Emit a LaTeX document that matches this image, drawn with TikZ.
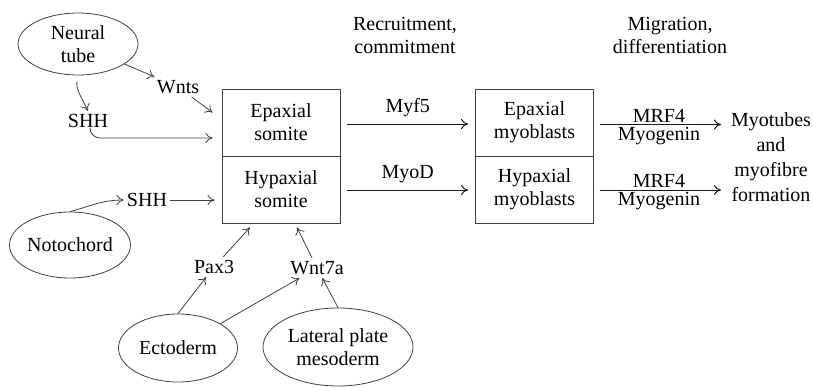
\documentclass[tikz,border=0pt]{standalone}
\usepackage{tikz}
\usetikzlibrary{arrows.meta,shapes.geometric}
\usepackage{fontspec}
\setmainfont{Liberation Serif}

\begin{document}
\begin{tikzpicture}[x=0.5pt, y=-0.5pt,
  font=\rmfamily\fontsize{10}{11.5}\selectfont,
  arr/.style={-{To[length=3.5pt,width=5pt]}, draw=black!75, line width=0.4pt},
  mainarr/.style={arr, draw=black!90, line width=0.5pt, shorten <=3.5pt, shorten >=3.5pt},
  tissue/.style={ellipse, draw=black!75, line width=0.4pt, align=center, inner sep=0pt},
  cellbox/.style={rectangle, draw=black!75, line width=0.45pt, align=center,
    minimum width=59pt, minimum height=33.5pt, inner sep=0pt},
  sig/.style={inner sep=1.5pt}]
  \useasboundingbox (0,0) rectangle (813,386);

  % Tissues
  \node[tissue, minimum width=60pt, minimum height=31pt] (neural) at (78,44) {Neural\\tube};
  \node[tissue, minimum width=59.5pt, minimum height=33pt] (noto) at (70,245) {Notochord};
  \node[tissue, minimum width=59.5pt, minimum height=34pt] (ecto) at (178,348) {Ectoderm};
  \node[tissue, minimum width=75pt, minimum height=39pt] (lpm) at (338,347) {Lateral plate\\mesoderm};

  % Signals
  \node[sig] (wnts) at (178,87) {Wnts};
  \node[sig] (shhA) at (88,121) {SHH};
  \node[sig] (shhB) at (147,200) {SHH};
  \node[sig] (pax) at (214,267) {Pax3};
  \node[sig] (wnta) at (317,268) {Wnt7a};

  % Somites and myoblasts
  \node[cellbox] (epis) at (281,122.5) {Epaxial\\somite};
  \node[cellbox] (hyps) at (281,189.5) {Hypaxial\\somite};
  \node[cellbox] (epim) at (534.5,122.5) {Epaxial\\myoblasts};
  \node[cellbox] (hypm) at (534.5,189.5) {Hypaxial\\myoblasts};
  \node[align=center, font=\rmfamily\fontsize{10}{12.5}\selectfont] (fate) at (771,157)
    {Myotubes\\and\\myofibre\\formation};

  % Stage headings
  \node[align=center] (recruit) at (405,35) {Recruitment,\\commitment};
  \node[align=center] (migrate) at (670,35) {Migration,\\differentiation};

  % Inputs to the somite
  \draw[arr] (neural) -- (wnts);
  \draw[arr] (wnts) -- ([shift={(-9,-10)}]epis.west);
  \draw[arr, shorten <=3pt] (neural.south) to[out=260, in=115] (shhA.north);
  \draw[arr, rounded corners=5pt] ([xshift=1pt]shhA.south) |- ([shift={(-9,15.5)}]epis.west);
  \draw[arr] (noto.north) to[out=15, in=180] (shhB.west);
  \draw[arr, shorten >=3.5pt] (shhB.east) -- (shhB.east -| hyps.west);
  \draw[arr] (ecto.north) -- (pax);
  \draw[arr] (pax) -- ([shift={(-31,4)}]hyps.south);
  \draw[arr] (ecto.north east) -- (wnta);
  \draw[arr] (lpm.north) -- (wnta);
  \draw[arr] (wnta) -- ([shift={(16,4)}]hyps.south);

  % Commitment and differentiation
  \draw[mainarr] ([yshift=-0.75pt]epis.east) -- ([yshift=-0.75pt]epim.west)
    node[midway, above] {Myf5};
  \draw[mainarr] ([yshift=-0.25pt]hyps.east) -- ([yshift=-0.25pt]hypm.west)
    node[midway, above] {MyoD};
  \draw[mainarr, shorten <=3pt, shorten >=1.5pt] ([yshift=-1pt]epim.east) -- ([yshift=-1pt]epim.east -| fate.west)
    node[midway, above, inner sep=1pt] {MRF4} node[midway, below, inner sep=1pt] {Myogenin};
  \draw[mainarr, shorten <=3pt, shorten >=1.5pt] ([yshift=-0.25pt]hypm.east) -- ([yshift=-0.25pt]hypm.east -| fate.west)
    node[midway, above, inner sep=1pt] {MRF4} node[midway, below, inner sep=1pt] {Myogenin};
\end{tikzpicture}
\end{document}
